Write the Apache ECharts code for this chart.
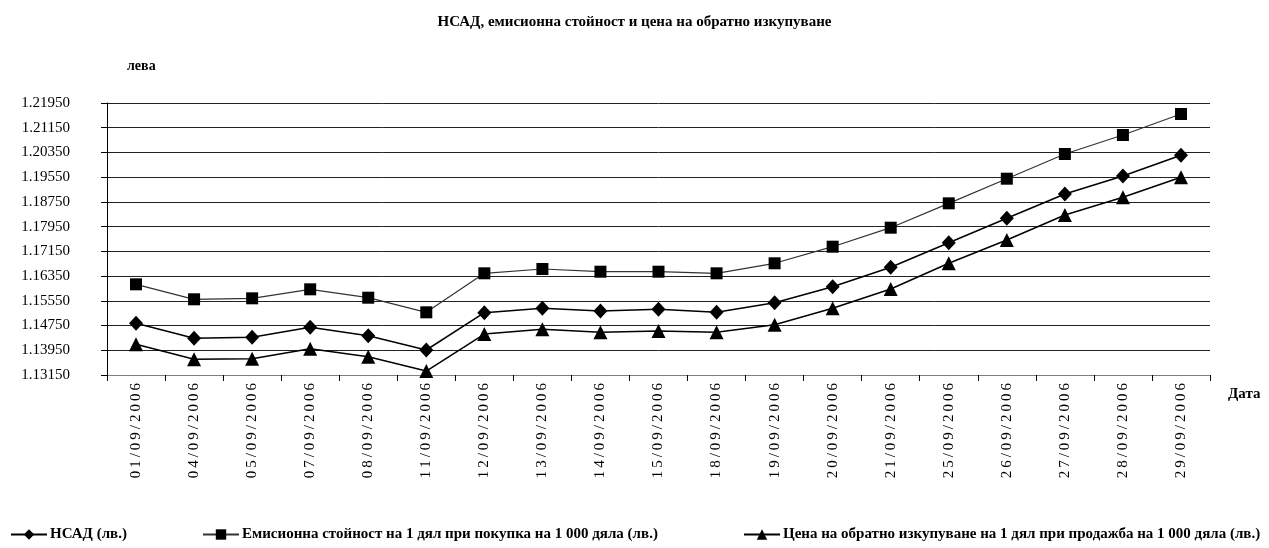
<!DOCTYPE html>
<html>
<head>
<meta charset="utf-8">
<script src="https://cdn.jsdelivr.net/npm/echarts@6/dist/echarts.min.js"></script>
<style>
html,body{margin:0;padding:0;background:#fff;}
#chart{width:1269px;height:548px;}
</style>
</head>
<body>
<div id="chart"></div>
<script>
const categories = ['01/09/2006','04/09/2006','05/09/2006','07/09/2006','08/09/2006','11/09/2006','12/09/2006','13/09/2006','14/09/2006','15/09/2006','18/09/2006','19/09/2006','20/09/2006','21/09/2006','25/09/2006','26/09/2006','27/09/2006','28/09/2006','29/09/2006'];
const navValues = [1.14822,1.14337,1.14370,1.14693,1.14422,1.13959,1.15166,1.15308,1.15221,1.15276,1.15178,1.15489,1.16007,1.16634,1.17430,1.18220,1.19006,1.19588,1.20258];
const issueValues = [1.16084,1.15599,1.15631,1.15922,1.15651,1.15178,1.16440,1.16580,1.16492,1.16492,1.16440,1.16764,1.17301,1.17916,1.18704,1.19501,1.20300,1.20915,1.21594];
const redeemValues = [1.14143,1.13658,1.13677,1.14001,1.13742,1.13279,1.14476,1.14628,1.14531,1.14574,1.14531,1.14777,1.15308,1.15932,1.16764,1.17518,1.18326,1.18899,1.19546];
const seriesNames = ['НСАД (лв.)','Емисионна стойност на 1 дял при покупка на 1 000 дяла (лв.)','Цена на обратно изкупуване на 1 дял при продажба на 1 000 дяла (лв.)'];
const yTickLabels = ['1.13150','1.13950','1.14750','1.15550','1.16350','1.17150','1.17950','1.18750','1.19550','1.20350','1.21150','1.21950'];
const Y_BASE = 1.1315;   // lowest tick value
const Y_STEP = 0.008;    // tick spacing

const FONT = '"Liberation Serif","Times New Roman",serif';
const shift = arr => arr.map(v => +(v - Y_BASE).toFixed(6));

const chart = echarts.init(document.getElementById('chart'), null, {renderer:'canvas'});
const legendCommon = {
  top: 522, orient:'horizontal', itemWidth:36, itemHeight:13, itemGap:0,
  textStyle:{fontFamily:FONT, fontWeight:'bold', fontSize:15, color:'#000', padding:[0,0,0,-2]}
};
chart.setOption({
  animation:false,
  backgroundColor:'#fff',
  title:{
    text:'НСАД, емисионна стойност и цена на обратно изкупуване',
    left:'center', top:10,
    textStyle:{fontFamily:FONT, fontWeight:'bold', fontSize:15, color:'#000'}
  },
  legend:[
    Object.assign({left:5, data:[seriesNames[0]]}, legendCommon),
    Object.assign({left:197, data:[seriesNames[1]]}, legendCommon),
    Object.assign({left:738, data:[seriesNames[2]]}, legendCommon)
  ],
  grid:{left:107, right:59, top:103, bottom:173, containLabel:false},
  xAxis:{
    type:'category', data:categories, boundaryGap:true,
    name:'Дата', nameLocation:'end', nameGap:18,
    nameTextStyle:{fontFamily:FONT, fontWeight:'bold', fontSize:15, color:'#000', verticalAlign:'top', padding:[12,0,0,0]},
    axisLine:{lineStyle:{color:'#808080', width:1}},
    axisTick:{show:true, alignWithLabel:false, length:6, lineStyle:{color:'#000'}},
    axisLabel:{
      rotate:90, interval:0, margin:8,
      fontFamily:FONT, fontSize:15, color:'#000',
      formatter: v => v.split('').join('\u2009')
    },
    splitLine:{show:false}
  },
  yAxis:{
    type:'value', min:0, max:Y_STEP*(yTickLabels.length-1), interval:Y_STEP,
    name:'лева', nameLocation:'end', nameGap:30,
    nameTextStyle:{fontFamily:FONT, fontWeight:'bold', fontSize:14, color:'#000', align:'left', padding:[0,0,0,20]},
    axisLine:{show:true, lineStyle:{color:'#000', width:1}},
    axisTick:{show:true, length:6, lineStyle:{color:'#000'}},
    axisLabel:{
      margin:37, fontFamily:FONT, fontSize:15, color:'#000',
      formatter: v => yTickLabels[Math.round(v / Y_STEP)] || ''
    },
    splitLine:{show:true, lineStyle:{color:'#222', width:1}}
  },
  series:[
    {name:seriesNames[0], type:'line', data:shift(navValues), symbol:'diamond', symbolSize:[14,15],
     itemStyle:{color:'#000'}, lineStyle:{color:'#000', width:1.5}},
    {name:seriesNames[1], type:'line', data:shift(issueValues), symbol:'rect', symbolSize:12,
     itemStyle:{color:'#000'}, lineStyle:{color:'#333', width:1.2}},
    {name:seriesNames[2], type:'line', data:shift(redeemValues), symbol:'triangle', symbolSize:[14,14],
     itemStyle:{color:'#000'}, lineStyle:{color:'#000', width:1.5}}
  ]
});
</script>
</body>
</html>
